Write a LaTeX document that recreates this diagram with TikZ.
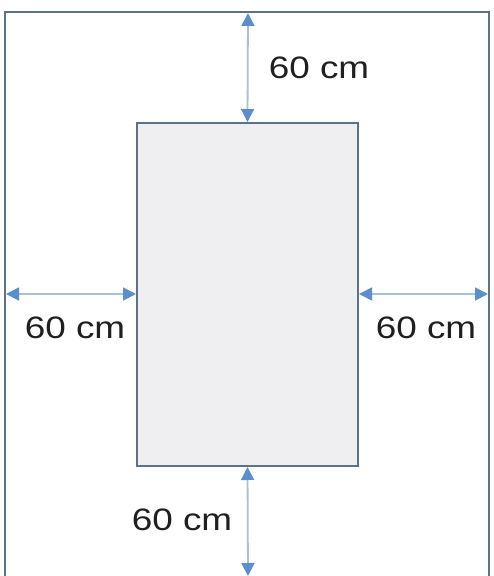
\documentclass[tikz,border=0pt]{standalone}
\usepackage{fontspec}
\setmainfont{Liberation Sans}
\usetikzlibrary{arrows.meta}
\definecolor{frame}{HTML}{5E7285}
\definecolor{arr}{HTML}{5B8FCB}
\definecolor{arrline}{HTML}{A9C0DA}
\definecolor{boxfill}{HTML}{EFEFF1}
\tikzset{
  dim/.style={draw=arrline, line width=1.8pt, {Triangle[length=13pt,width=13pt,color=arr]}-{Triangle[length=13pt,width=13pt,color=arr]}},
  lbl/.style={font=\fontsize{31}{36}\selectfont, text=black!88, xscale=1.19, inner sep=0pt}
}
\begin{document}
\begin{tikzpicture}[x=1pt,y=-1pt]
\useasboundingbox (0,0) rectangle (493,576);
\draw[frame, line width=2pt] (5,577) -- (5,12) -- (489,12) -- (489,577);
\node[draw=frame, fill=boxfill, line width=2pt, minimum width=221pt, minimum height=343pt, inner sep=0pt, anchor=north west] (box) at (136,122) {};
\coordinate (top) at (248,13);
\coordinate (bot) at (248,576);
\coordinate (lft) at (6,294);
\coordinate (rgt) at (488,294);
\draw[dim] (top) -- (box.north);
\draw[dim] (box.south) -- (bot);
\draw[dim] (lft) -- (box.west |- lft);
\draw[dim] (box.east |- rgt) -- (rgt);
\node[lbl] (t1) at (319,68) {60 cm};
\node[lbl] (t2) at (75,328) {60 cm};
\node[lbl] (t3) at (426,328) {60 cm};
\node[lbl] (t4) at (182,520) {60 cm};
\end{tikzpicture}
\end{document}
